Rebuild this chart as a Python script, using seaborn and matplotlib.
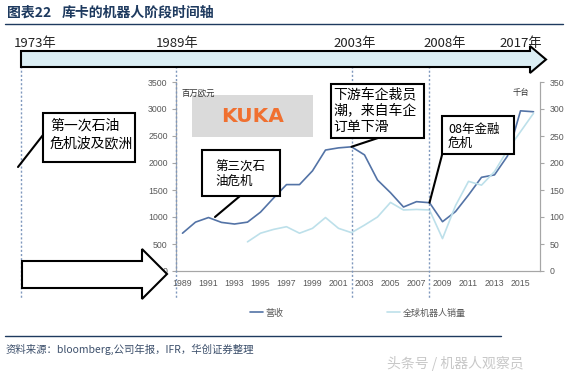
import numpy as np
import matplotlib
matplotlib.use("Agg")
import matplotlib.pyplot as plt
from matplotlib.patches import Polygon, Rectangle
from matplotlib.lines import Line2D
import seaborn as sns

# KUKA revenue (million EUR) and global robot sales (thousand units)
years = list(range(1989, 2017))
revenue = [700, 905, 990, 900, 870, 905, 1090, 1350, 1600, 1600, 1855, 2240, 2280, 2300,
           2150, 1685, 1450, 1185, 1284, 1265, 913, 1100, 1407, 1735, 1780, 2130, 2966, 2949]
sales_years = list(range(1994, 2017))
sales = [54, 70, 77, 82, 70, 79, 99, 79, 71, 85, 100, 127, 113, 114, 113, 60, 121, 166,
         159, 184, 224, 258, 292]
tick_years = list(range(1989, 2016, 2))
stage_labels = ["1973年", "1989年", "2003年", "2008年", "2017年"]

sns.set_style("white")
plt.rcParams["font.family"] = ["Noto Sans CJK SC", "DejaVu Sans"]

W, H = 588, 375
fig = plt.figure(figsize=(W / 100, H / 100), dpi=100)

rev_c = "#5373a6"
sal_c = "#bde0ea"
grey = "#595959"
navy = "#1e3a5f"

ax = fig.add_axes([176 / W, (H - 271) / H, 364 / W, 189 / H])
ax2 = ax.twinx()
sns.lineplot(x=years, y=revenue, ax=ax, color=rev_c, linewidth=1.2)
sns.lineplot(x=sales_years, y=sales, ax=ax2, color=sal_c, linewidth=1.2)

ax.set_xlim(1988.5, 2016.5)
ax.set_ylim(0, 3500)
ax2.set_ylim(0, 350)
ax.set_yticks(range(0, 3501, 500))
ax2.set_yticks(range(0, 351, 50))
ax.set_xticks(tick_years)
ax.set_xticks(np.arange(1988.5, 2017, 1), minor=True)
ax.tick_params(axis="x", which="major", length=0, pad=6, labelsize=6.3, labelcolor=grey)
ax.tick_params(axis="x", which="minor", length=3, color="#a6a6a6", direction="out")
ax.tick_params(axis="y", length=3, color="#a6a6a6", labelsize=6.3, labelcolor=grey, pad=3)
ax2.tick_params(axis="y", length=3, color="#a6a6a6", labelsize=6.3, labelcolor=grey, pad=4)
for a in (ax, ax2):
    a.set_xlabel("")
    a.set_ylabel("")
    a.spines["top"].set_visible(False)
    for s in ("left", "right", "bottom"):
        a.spines[s].set_color("#a6a6a6")
        a.spines[s].set_linewidth(0.8)
    a.patch.set_visible(False)
for lab in ax.get_xticklabels() + ax.get_yticklabels() + ax2.get_yticklabels():
    lab.set_family(["Liberation Sans", "DejaVu Sans"])

handles = [Line2D([], [], color=rev_c, lw=1.2), Line2D([], [], color=sal_c, lw=1.2)]
fig.legend(handles, ["营收", "全球机器人销量"], loc="center", bbox_to_anchor=(358 / W, 1 - 313 / H),
           ncol=2, frameon=False, fontsize=6.5, handlelength=1.4, handletextpad=0.3,
           columnspacing=11.5, labelcolor=grey)

# overlay in pixel coordinates
ov = fig.add_axes([0, 0, 1, 1], zorder=10)
ov.set_xlim(0, W)
ov.set_ylim(H, 0)
ov.axis("off")
ov.patch.set_visible(False)

ov.text(7, 13, "图表22", fontsize=10, fontweight="bold", color=navy, va="center")
ov.text(62, 13, "库卡的机器人阶段时间轴", fontsize=10, fontweight="bold", color=navy, va="center")
ov.plot([5, 563], [24, 24], color=navy, lw=1)

# stage labels
for lab, cx in zip(stage_labels, [35, 177.5, 355, 445, 521]):
    ov.text(cx, 43, lab, fontsize=9.5, ha="center", va="center", color="#222222")

# dotted stage lines
for x in [21, 176, 352, 429]:
    ov.plot([x, x], [66, 298], color="#7f98bd", lw=1, ls=(0, (1.5, 1.5)), zorder=1)

# timeline arrow
ov.add_patch(Polygon([(21, 51), (530, 51), (530, 46), (546, 59.5), (530, 73), (530, 67), (21, 67)],
                     closed=True, facecolor="#dbeef4", edgecolor="black", lw=1.5, zorder=3))
ov.add_patch(Polygon([(22, 261), (142, 261), (142, 249), (167, 274), (142, 299), (142, 288), (22, 288)],
                     closed=True, facecolor="white", edgecolor="black", lw=1.5, zorder=3))

# KUKA logo
ov.add_patch(Rectangle((192, 95), 121, 42, facecolor="#dadada", edgecolor="none", zorder=2))
ov.text(252.5, 116.5, "KUKA", fontsize=14.5, fontweight="bold", color="#f07030",
        family="DejaVu Sans", ha="center", va="center", zorder=3)
ov.text(182, 93, "百万欧元", fontsize=6, color="#333333", va="center")
ov.text(521, 93, "千台", fontsize=6, color="#333333", va="center", ha="center")


def callout(x0, y0, x1, y1, lines, tx, ys, size, weight="normal"):
    ov.add_patch(Rectangle((x0, y0), x1 - x0, y1 - y0, facecolor="white",
                           edgecolor="black", lw=1.5, zorder=4))
    for line, y in zip(lines, ys):
        ov.text(tx, y, line, fontsize=size, va="center", color="black", zorder=5,
                fontweight=weight)


callout(43, 113, 135, 162, ["第一次石油", "危机波及欧洲"], 50, [126, 143], 10)
ov.plot([43, 18], [135, 167], color="black", lw=1.5, zorder=4)

callout(202, 150, 280, 196, ["第三次石", "油危机"], 215, [167.5, 181.5], 9)
ov.plot([240, 215], [196, 217], color="black", lw=1.5, zorder=4)

callout(331, 84, 424, 138, ["下游车企裁员", "潮，来自车企", "订单下滑"], 333.5,
        [94, 110.5, 126.5], 10)
ov.annotate("", xy=(2002, revenue[years.index(2002)]), xycoords=ax.transData,
            xytext=(378, 138), textcoords="data",
            arrowprops=dict(arrowstyle="-", color="black", lw=1.5, shrinkA=0, shrinkB=0))

callout(442, 116, 514, 154, ["08年金融", "危机"], 448, [129.5, 143], 9)
ov.annotate("", xy=(2008, revenue[years.index(2008)]), xycoords=ax.transData,
            xytext=(442, 155), textcoords="data",
            arrowprops=dict(arrowstyle="-", color="black", lw=1.5, shrinkA=0, shrinkB=0))

# footer
ov.plot([5, 501], [336, 336], color=navy, lw=1)
ov.text(6, 349, "资料来源：bloomberg,公司年报，IFR，华创证券整理", fontsize=7.5,
        style="italic", color="#3c4f6b", va="center")
ov.text(455, 363, "头条号 / 机器人观察员", fontsize=10, color="#c8c8c8", va="center", ha="center")

fig.savefig("out.png", dpi=100)
